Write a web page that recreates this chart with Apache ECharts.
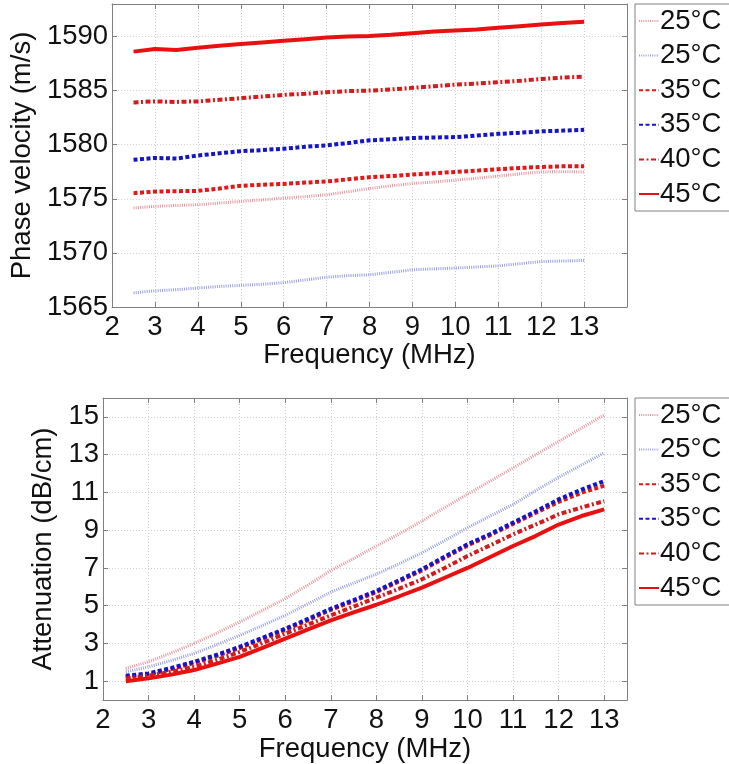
<!DOCTYPE html>
<html>
<head>
<meta charset="utf-8">
<script src="https://cdn.jsdelivr.net/npm/echarts@6/dist/echarts.min.js"></script>
<style>
html,body{margin:0;padding:0;background:#fff;}
#chart{width:729px;height:764px;}
</style>
</head>
<body>
<div id="chart"></div>
<script>
// Frequencies (MHz)
const freq = [2.5, 3, 3.5, 4, 4.5, 5, 5.5, 6, 6.5, 7, 7.5, 8, 8.5, 9, 9.5, 10, 10.5, 11, 11.5, 12, 12.5, 13];

// Legend labels
const legendLabels = ['25°C', '25°C', '35°C', '35°C', '40°C', '45°C'];

// Phase velocity (m/s)
const velPink25 = [1574.15, 1574.3, 1574.38, 1574.45, 1574.6, 1574.76, 1574.9, 1575.06, 1575.2, 1575.37, 1575.65, 1575.95, 1576.2, 1576.41, 1576.55, 1576.72, 1576.9, 1577.09, 1577.3, 1577.48, 1577.5, 1577.48];
const velBlue25 = [1566.3, 1566.5, 1566.6, 1566.75, 1566.9, 1567.0, 1567.1, 1567.25, 1567.5, 1567.75, 1567.9, 1567.98, 1568.2, 1568.44, 1568.52, 1568.6, 1568.7, 1568.8, 1569.0, 1569.2, 1569.25, 1569.3];
const velRed35 = [1575.52, 1575.67, 1575.7, 1575.73, 1575.95, 1576.2, 1576.3, 1576.37, 1576.5, 1576.6, 1576.8, 1577.0, 1577.1, 1577.24, 1577.36, 1577.48, 1577.6, 1577.73, 1577.85, 1577.94, 1578.0, 1578.0];
const velBlue35 = [1578.6, 1578.78, 1578.72, 1579.0, 1579.2, 1579.4, 1579.5, 1579.63, 1579.8, 1579.94, 1580.15, 1580.4, 1580.5, 1580.62, 1580.66, 1580.7, 1580.85, 1581.0, 1581.1, 1581.23, 1581.3, 1581.38];
const velRed40 = [1583.9, 1584.0, 1583.95, 1584.0, 1584.15, 1584.3, 1584.45, 1584.6, 1584.7, 1584.85, 1584.95, 1585.0, 1585.1, 1585.25, 1585.4, 1585.55, 1585.65, 1585.77, 1585.9, 1586.07, 1586.2, 1586.29];
const velRed45 = [1588.6, 1588.85, 1588.75, 1588.95, 1589.15, 1589.3, 1589.45, 1589.6, 1589.75, 1589.9, 1590.0, 1590.05, 1590.15, 1590.3, 1590.45, 1590.55, 1590.65, 1590.8, 1590.95, 1591.1, 1591.25, 1591.35];

// Attenuation (dB/cm)
const attPink25 = [1.67, 2.03, 2.5, 3.0, 3.55, 4.14, 4.75, 5.37, 6.1, 6.86, 7.5, 8.16, 8.8, 9.48, 10.2, 10.9, 11.6, 12.3, 13.0, 13.7, 14.4, 15.1];
const attBlue25 = [1.5, 1.76, 2.1, 2.47, 2.93, 3.43, 3.95, 4.49, 5.1, 5.72, 6.2, 6.67, 7.22, 7.8, 8.45, 9.13, 9.75, 10.36, 11.1, 11.8, 12.45, 13.1];
const attRed35 = [1.23, 1.35, 1.64, 1.97, 2.34, 2.76, 3.24, 3.72, 4.24, 4.78, 5.24, 5.72, 6.29, 6.87, 7.54, 8.19, 8.74, 9.33, 9.92, 10.5, 10.98, 11.36];
const attBlue35 = [1.29, 1.41, 1.7, 2.03, 2.4, 2.82, 3.3, 3.78, 4.3, 4.84, 5.3, 5.78, 6.35, 6.93, 7.6, 8.25, 8.8, 9.4, 10.0, 10.63, 11.15, 11.6];
const attRed40 = [1.15, 1.29, 1.5, 1.76, 2.13, 2.55, 3.02, 3.52, 4.0, 4.49, 4.95, 5.43, 5.9, 6.4, 7.0, 7.63, 8.2, 8.78, 9.3, 9.84, 10.2, 10.54];
const attRed45 = [1.0, 1.15, 1.35, 1.59, 1.93, 2.29, 2.77, 3.26, 3.75, 4.22, 4.65, 5.05, 5.5, 5.96, 6.48, 7.0, 7.58, 8.16, 8.7, 9.3, 9.75, 10.1];

// Tick values
const xTicks = [2, 3, 4, 5, 6, 7, 8, 9, 10, 11, 12, 13];
const yTicksTop = [1565, 1570, 1575, 1580, 1585, 1590];
const yTicksBottom = [1, 3, 5, 7, 9, 11, 13, 15];

const FONT = 'Liberation Sans';
const FS = 27.5;
const styles = [
  { color: '#e597a0', width: 3, type: [1, 1.2] },
  { color: '#9aa0e0', width: 3, type: [1, 1.2] },
  { color: '#e01818', width: 4, type: [4, 2.5] },
  { color: '#1414c8', width: 4, type: [4, 2.5] },
  { color: '#d01c1c', width: 4, type: [5, 2.5, 2, 2.5] },
  { color: '#e81010', width: 4, type: 'solid' }
];
const topData = [velPink25, velBlue25, velRed35, velBlue35, velRed40, velRed45];
const botData = [attPink25, attBlue25, attRed35, attBlue35, attRed40, attRed45];
const ZW = ['', '\u200b', '', '\u200b', '', ''];

function pairs(arr) { return freq.map((f, i) => [f, arr[i]]); }

const series = [];
const topNames = [], botNames = [];
for (let i = 0; i < 6; i++) {
  const n1 = legendLabels[i] + ZW[i];
  const n2 = legendLabels[i] + ZW[i] + '\u200c';
  topNames.push(n1); botNames.push(n2);
  series.push({ name: n1, type: 'line', xAxisIndex: 0, yAxisIndex: 0, data: pairs(topData[i]),
    showSymbol: false, symbol: 'none', lineStyle: styles[i], itemStyle: { color: styles[i].color }, z: 3 + i, animation: false });
}
for (let i = 0; i < 6; i++) {
  series.push({ name: botNames[i], type: 'line', xAxisIndex: 2, yAxisIndex: 2, data: pairs(botData[i]),
    showSymbol: false, symbol: 'none', lineStyle: styles[i], itemStyle: { color: styles[i].color }, z: 3 + i, animation: false });
}

const axisLineStyle = { color: '#808080', width: 1 };
const gridLine = { show: true, lineStyle: { color: '#cfcfcf', type: [1, 2], width: 1 } };
const lbl = { color: '#111', fontFamily: FONT, fontSize: FS };
const nameStyle = { color: '#111', fontFamily: FONT, fontSize: FS };

function xMain(gridIndex, max, nameGap, margin) {
  return { type: 'value', gridIndex, position: 'bottom', min: 2, max, interval: 1,
    axisLine: { show: true, lineStyle: axisLineStyle, onZero: false },
    axisTick: { show: true, inside: true, length: 5, lineStyle: axisLineStyle },
    axisLabel: Object.assign({}, lbl, { margin,
      formatter: v => (xTicks.indexOf(v) >= 0 ? String(v) : '') }),
    splitLine: gridLine,
    name: 'Frequency (MHz)', nameLocation: 'middle', nameGap, nameTextStyle: nameStyle };
}
function xTop(gridIndex, max) {
  return { type: 'value', gridIndex, position: 'top', min: 2, max, interval: 1,
    axisLine: { show: true, lineStyle: axisLineStyle, onZero: false },
    axisTick: { show: true, inside: true, length: 5, lineStyle: axisLineStyle },
    axisLabel: { show: false }, splitLine: { show: false } };
}
function legendAt(names, top) {
  return { data: names, left: 635, top, orient: 'vertical', selectedMode: false,
    padding: [2, 20, 2, 3], itemGap: 4.6, itemWidth: 20, itemHeight: 10,
    borderColor: '#808080', borderWidth: 1, backgroundColor: '#fff',
    itemStyle: { opacity: 0 },
    textStyle: { color: '#111', fontFamily: FONT, fontSize: FS, lineHeight: 30, padding: [0, 0, 0, -4] },
    formatter: n => n.replace(/[\u200b\u200c]/g, '') };
}

const option = {
  backgroundColor: '#fff',
  animation: false,
  grid: [
    { left: 103, top: 4, width: 524, height: 303 },
    { left: 103, top: 398, width: 524, height: 304 }
  ],
  legend: [legendAt(topNames, 4), legendAt(botNames, 398)],
  xAxis: [
    xMain(0, 14, 30, 6),
    xTop(0, 14),
    xMain(1, 13.5, 30, 6),
    xTop(1, 13.5)
  ],
  yAxis: [
    { type: 'value', gridIndex: 0, position: 'left', min: 1565, max: 1593, interval: 5,
      axisLine: { show: true, lineStyle: axisLineStyle, onZero: false },
      axisTick: { show: true, inside: true, length: 5, lineStyle: axisLineStyle },
      axisLabel: Object.assign({}, lbl, { margin: 4, formatter: v => (yTicksTop.indexOf(v) >= 0 ? String(v) : '') }),
      splitLine: gridLine,
      name: 'Phase velocity (m/s)', nameLocation: 'middle', nameGap: 62, nameTextStyle: nameStyle },
    { type: 'value', gridIndex: 0, position: 'right', min: 1565, max: 1593, interval: 5,
      axisLine: { show: true, lineStyle: axisLineStyle, onZero: false },
      axisTick: { show: true, inside: true, length: 5, lineStyle: axisLineStyle },
      axisLabel: { show: false }, splitLine: { show: false } },
    { type: 'value', gridIndex: 1, position: 'left', min: 0, max: 16, interval: 1,
      axisLine: { show: true, lineStyle: axisLineStyle, onZero: false },
      axisTick: { show: true, inside: true, length: 5, lineStyle: axisLineStyle, customValues: yTicksBottom },
      axisLabel: Object.assign({}, lbl, { margin: 4, customValues: yTicksBottom,
        formatter: v => (yTicksBottom.indexOf(v) >= 0 ? String(v) : '') }),
      splitLine: gridLine,
      name: 'Attenuation (dB/cm)', nameLocation: 'middle', nameGap: 31, nameTextStyle: nameStyle },
    { type: 'value', gridIndex: 1, position: 'right', min: 0, max: 16, interval: 1,
      axisLine: { show: true, lineStyle: axisLineStyle, onZero: false },
      axisTick: { show: true, inside: true, length: 5, lineStyle: axisLineStyle, customValues: yTicksBottom },
      axisLabel: { show: false }, splitLine: { show: false } }
  ],
  series
};

const chart = echarts.init(document.getElementById('chart'), null, { renderer: 'canvas' });
chart.setOption(option);
</script>
</body>
</html>
